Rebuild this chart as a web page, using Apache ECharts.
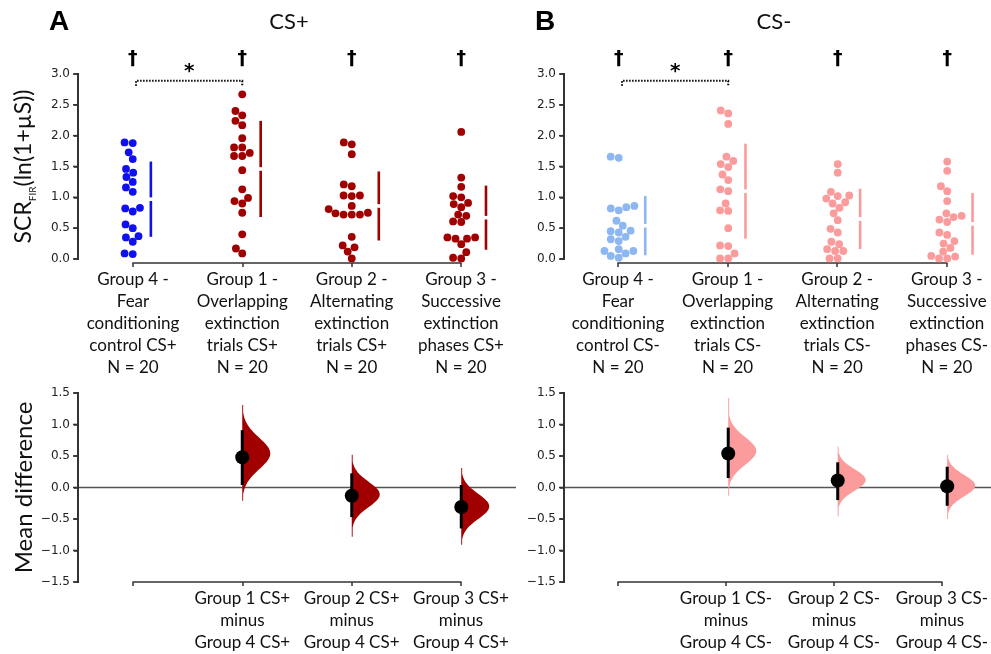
<!DOCTYPE html>
<html><head><meta charset="utf-8">
<script src="https://cdn.jsdelivr.net/npm/echarts@6/dist/echarts.min.js"></script>
<style>html,body{margin:0;padding:0;background:#fff}#c{width:991px;height:654px}</style>
</head><body><div id="c"></div>
<script>
// ---------- DATA ----------
const topCatsPlus = ['Group 4 -\nFear\nconditioning\ncontrol CS+\nN = 20','Group 1 -\nOverlapping\nextinction\ntrials CS+\nN = 20','Group 2 -\nAlternating\nextinction\ntrials CS+\nN = 20','Group 3 -\nSuccessive\nextinction\nphases CS+\nN = 20'];
const topCatsMinus = ['Group 4 -\nFear\nconditioning\ncontrol CS-\nN = 20','Group 1 -\nOverlapping\nextinction\ntrials CS-\nN = 20','Group 2 -\nAlternating\nextinction\ntrials CS-\nN = 20','Group 3 -\nSuccessive\nextinction\nphases CS-\nN = 20'];
const bottomCatsPlus = ['','Group 1 CS+\nminus\nGroup 4 CS+','Group 2 CS+\nminus\nGroup 4 CS+','Group 3 CS+\nminus\nGroup 4 CS+'];
const bottomCatsMinus = ['','Group 1 CS-\nminus\nGroup 4 CS-','Group 2 CS-\nminus\nGroup 4 CS-','Group 3 CS-\nminus\nGroup 4 CS-'];
const topTicks = [0,0.5,1,1.5,2,2.5,3];
const bottomTicks = [-1.5,-1,-0.5,0,0.5,1,1.5];

const csPlusG4 = [1.89,1.88,1.73,1.62,1.46,1.40,1.33,1.25,1.16,1.09,0.83,0.82,0.77,0.56,0.50,0.37,0.35,0.28,0.09,0.08];
const csPlusG1 = [2.67,2.40,2.33,2.24,2.17,1.96,1.81,1.81,1.72,1.67,1.67,1.44,1.13,0.99,0.94,0.90,0.75,0.40,0.17,0.09];
const csPlusG2 = [1.89,1.86,1.70,1.21,1.18,1.03,1.03,1.02,0.86,0.81,0.75,0.74,0.72,0.72,0.72,0.36,0.22,0.19,0.12,0.01];
const csPlusG3 = [2.06,1.32,1.17,1.02,1.00,0.91,0.89,0.84,0.72,0.70,0.61,0.60,0.35,0.33,0.33,0.35,0.24,0.11,0.02,0.01];
const csMinusG4 = [1.66,1.64,0.86,0.84,0.82,0.79,0.62,0.54,0.46,0.45,0.43,0.36,0.32,0.29,0.16,0.13,0.13,0.09,0.05,0.02];
const csMinusG1 = [2.41,2.36,2.19,1.66,1.59,1.54,1.49,1.37,1.28,1.13,1.10,0.90,0.79,0.78,0.50,0.22,0.21,0.09,0.01,0.01];
const csMinusG2 = [1.54,1.40,1.09,1.03,1.02,0.98,0.92,0.90,0.83,0.74,0.63,0.49,0.43,0.28,0.24,0.16,0.13,0.13,0.01,0.01];
const csMinusG3 = [1.58,1.43,1.18,1.10,0.94,0.74,0.70,0.68,0.64,0.60,0.43,0.39,0.29,0.25,0.18,0.12,0.05,0.04,0.01,0.01];

const csPlusMean = [0.97,1.46,0.86,0.67];
const csPlusSD   = [0.61,0.78,0.56,0.52];
const csMinusMean = [0.54,1.10,0.65,0.57];
const csMinusSD   = [0.48,0.77,0.49,0.50];

const csPlusDiff   = [0.48,-0.13,-0.31];
const csPlusCiLow  = [0.04,-0.47,-0.65];
const csPlusCiHigh = [0.91,0.225,0.04];
const csPlusBootPeak = [0.54,-0.11,-0.30];
const csPlusBootSpread = [0.25,0.20,0.20];
const csPlusBootLow  = [-0.21,-0.78,-0.91];
const csPlusBootHigh = [1.31,0.52,0.31];

const csMinusDiff   = [0.54,0.11,0.02];
const csMinusCiLow  = [0.15,-0.20,-0.29];
const csMinusCiHigh = [0.95,0.40,0.33];
const csMinusBootPeak = [0.58,0.12,0.03];
const csMinusBootSpread = [0.22,0.17,0.17];
const csMinusBootLow  = [-0.13,-0.46,-0.50];
const csMinusBootHigh = [1.42,0.65,0.52];

const daggerGroups = [0,1,2,3];
const bracketPair = [0,1];

// ---------- STYLE ----------
const BLUE='#1010ef', DRED='#a00000', LBLUE='#8db7f2', LRED='#fb9b9b';
const AX='#333333';
const TICKFONT='DejaVu Sans', LABFONT='Lato';
const C0=0.5; // category k sits at x = k + C0 in the data grids (axes span -0.5..3.5 in category units)

function fmt(v){ const s=Math.abs(v).toFixed(1); return v<0?'\u2212'+s:s; }

function dataXAxis(grid, max){
  return {type:'value', gridIndex:grid, min:0, max:max, show:false};
}
function labelXAxis(grid, cats, off){
  return {type:'value', gridIndex:grid, min:0, max:3, interval:1, offset:off,
    axisLine:{show:true, onZero:false, lineStyle:{color:AX,width:1.5}},
    axisTick:{show:true, length:4, lineStyle:{color:AX,width:1.5}},
    splitLine:{show:false},
    axisLabel:{show:true, margin:6, showMinLabel:true, showMaxLabel:true,
      fontFamily:LABFONT, fontSize:17, lineHeight:22, color:'#111', align:'center',
      formatter:(v)=>cats[Math.round(v)]||''}};
}
function dataYAxis(grid, min, max, name, extra){
  return Object.assign({type:'value', gridIndex:grid, min:min, max:max, interval:0.5, position:'left',
    axisLine:{show:true, onZero:false, lineStyle:{color:AX,width:1.5}},
    axisTick:{show:true, length:4, lineStyle:{color:AX,width:1.5}},
    splitLine:{show:false},
    axisLabel:{margin:8, fontFamily:TICKFONT, fontSize:12, color:'#222', formatter:fmt,
      showMinLabel:true, showMaxLabel:true},
    name:name||''}, extra||{});
}
function hiddenYAxis(grid){ return {type:'value', gridIndex:grid, min:0, max:1, show:false}; }

const chart = echarts.init(document.getElementById('c'));
const titles = [
  {type:'text', x:59, y:22, style:{text:'A', font:'bold 28px "Liberation Sans"', fill:'#000', align:'center', verticalAlign:'middle'}},
  {type:'text', x:545, y:22, style:{text:'B', font:'bold 28px "Liberation Sans"', fill:'#000', align:'center', verticalAlign:'middle'}},
  {type:'text', x:289, y:22, style:{text:'CS+', font:'22px Lato', fill:'#111', align:'center', verticalAlign:'middle'}},
  {type:'text', x:774, y:22, style:{text:'CS-', font:'22px Lato', fill:'#111', align:'center', verticalAlign:'middle'}}
];
const base = {
  animation:false,
  backgroundColor:'#fff',
  grid:[
    {left:78, top:74, width:438, height:185},
    {left:564, top:74, width:427, height:185},
    {left:78, top:393, width:438, height:189},
    {left:564, top:393, width:427, height:189},
    {left:133, top:74, width:328, height:185},
    {left:618, top:74, width:329, height:185},
    {left:133, top:393, width:328, height:189},
    {left:618, top:393, width:329, height:189}
  ],
  xAxis:[dataXAxis(0,4),dataXAxis(1,3.9),dataXAxis(2,4),dataXAxis(3,3.9),
    labelXAxis(4,topCatsPlus,4), labelXAxis(5,topCatsMinus,4), labelXAxis(6,bottomCatsPlus,2), labelXAxis(7,bottomCatsMinus,2)],
  yAxis:[
    dataYAxis(0,topTicks[0],topTicks[topTicks.length-1],'{a|SCR}{b|FIR}{a|(ln(1+\u00b5S))}',
      {nameLocation:'middle', nameGap:40, nameRotate:90,
       nameTextStyle:{rich:{a:{fontFamily:LABFONT,fontSize:23,color:'#111',lineHeight:28},
                            b:{fontFamily:LABFONT,fontSize:10,color:'#111',lineHeight:12,verticalAlign:'bottom'}}}}),
    dataYAxis(1,topTicks[0],topTicks[topTicks.length-1],''),
    dataYAxis(2,bottomTicks[0],bottomTicks[bottomTicks.length-1],'Mean difference',
      {nameLocation:'middle', nameGap:42, nameRotate:90,
       nameTextStyle:{fontFamily:LABFONT,fontSize:24,color:'#111'}}),
    dataYAxis(3,bottomTicks[0],bottomTicks[bottomTicks.length-1],''),
    hiddenYAxis(4),hiddenYAxis(5),hiddenYAxis(6),hiddenYAxis(7)
  ],
  graphic:titles,
  series:[]
};
chart.setOption(base);

// ---------- y-axis spines and ticks as filled bars on their own layer, placed through the axis scales ----------
const spineEls=[];
[[0,topTicks],[1,topTicks],[2,bottomTicks],[3,bottomTicks]].forEach(([g,ticks])=>{
  const a=chart.convertToPixel({gridIndex:g},[0,ticks[0]]);
  const b=chart.convertToPixel({gridIndex:g},[0,ticks[ticks.length-1]]);
  spineEls.push({type:'rect', zlevel:1, z:100, silent:true, shape:{x:a[0]-1,y:b[1]-1,width:2,height:a[1]-b[1]+2}, style:{fill:AX}});
  ticks.forEach(t=>{
    const p=chart.convertToPixel({gridIndex:g},[0,t]);
    spineEls.push({type:'rect', zlevel:1, z:100, silent:true, shape:{x:p[0]-5,y:p[1]-0.8,width:5,height:1.6}, style:{fill:AX}});
  });
});

// ---------- swarm layout (pixel space, seaborn-like) ----------
const DOT=7.8;
function swarm(ys, d){
  const order = ys.map((y,i)=>i).sort((a,b)=>ys[b]-ys[a]);
  const placed=[], xs=new Array(ys.length);
  for(const i of order){
    const y=ys[i];
    const neigh=placed.filter(p=>Math.abs(p.y-y)<d);
    const cands=[0]; let leftFirst=true;
    for(const n of neigh){
      const dx=Math.sqrt(Math.max(d*d-(n.y-y)*(n.y-y),0))*1.05;
      if(leftFirst) cands.push(n.x-dx,n.x+dx); else cands.push(n.x+dx,n.x-dx);
      leftFirst=!leftFirst;
    }
    const sorted=cands.map((c,k)=>[c,k]).sort((a,b)=>Math.abs(a[0])-Math.abs(b[0])||a[1]-b[1]);
    let chosen=0;
    for(const [c] of sorted){
      if(neigh.every(n=>(n.x-c)*(n.x-c)+(n.y-y)*(n.y-y)>=d*d*0.999)){chosen=c;break;}
    }
    xs[i]=chosen; placed.push({x:chosen,y:y});
  }
  return xs;
}

const series=[];
const panels=[
  {grid:0, groups:[csPlusG4,csPlusG1,csPlusG2,csPlusG3], colors:[BLUE,DRED,DRED,DRED], mean:csPlusMean, sd:csPlusSD},
  {grid:1, groups:[csMinusG4,csMinusG1,csMinusG2,csMinusG3], colors:[LBLUE,LRED,LRED,LRED], mean:csMinusMean, sd:csMinusSD}
];
panels.forEach(p=>{
  const ciData=[];
  p.groups.forEach((vals,g)=>{
    const pys=vals.map(v=>chart.convertToPixel({gridIndex:p.grid},[g+C0,v])[1]);
    const cx=chart.convertToPixel({gridIndex:p.grid},[g+C0,0])[0];
    const offs=swarm(pys,DOT);
    const data=vals.map((v,i)=>[chart.convertFromPixel({gridIndex:p.grid},[cx+offs[i],pys[i]])[0], v]);
    series.push({type:'scatter', xAxisIndex:p.grid, yAxisIndex:p.grid, data:data, symbolSize:DOT, clip:false,
      itemStyle:{color:p.colors[g], opacity:1}, z:3, silent:true});
    const right=Math.max(...offs)+DOT/2+7;
    ciData.push({value:[chart.convertFromPixel({gridIndex:p.grid},[cx+right,0])[0], p.mean[g], p.sd[g]], color:p.colors[g]});
  });
  series.push({type:'custom', xAxisIndex:p.grid, yAxisIndex:p.grid, data:ciData, clip:false, z:2, silent:true,
    renderItem:(params,api)=>{
      const x=api.value(0), m=api.value(1), s=api.value(2);
      const c=ciData[params.dataIndex].color;
      const pm=api.coord([x,m]), pt=api.coord([x,m+s]), pb=api.coord([x,m-s]);
      const st={stroke:c,lineWidth:2.6};
      return {type:'group',children:[
        {type:'line',shape:{x1:pm[0],y1:pt[1],x2:pm[0],y2:pm[1]-1.8},style:st},
        {type:'line',shape:{x1:pm[0],y1:pm[1]+1.8,x2:pm[0],y2:pb[1]},style:st}]};
    }});
  const ann=daggerGroups.map(g=>({value:[g+C0,3.24],kind:'dagger'}));
  ann.push({value:[bracketPair[0]+C0,2.89],kind:'bracket'});
  series.push({type:'custom', xAxisIndex:p.grid, yAxisIndex:p.grid, data:ann, clip:false, z:4, silent:true,
    renderItem:(params,api)=>{
      const it=ann[params.dataIndex];
      if(it.kind==='dagger'){
        const pt=api.coord(it.value);
        return {type:'text',x:pt[0],y:pt[1],style:{text:'\u2020',font:'bold 19px "DejaVu Sans"',fill:'#000',align:'center',verticalAlign:'middle'}};
      }
      const x0=bracketPair[0]+C0+0.03, x1=bracketPair[1]+C0;
      const a=api.coord([x0,2.89]), b=api.coord([x1,2.89]);
      const a2=api.coord([x0,2.81]), b2=api.coord([x1,2.81]);
      const st=api.coord([(x0+x1)/2,3.03]);
      return {type:'group',children:[
        {type:'polyline',shape:{points:[[a2[0],a2[1]],[a[0],a[1]],[b[0],b[1]],[b2[0],b2[1]]]},
          style:{stroke:'#000',lineWidth:2,lineDash:[1.5,1.5],fill:null}},
        {type:'text',x:st[0],y:st[1],style:{text:'*',font:'bold 20px "DejaVu Sans"',fill:'#000',align:'center',verticalAlign:'middle'}}]};
    }});
});

const eff=[
  {grid:2, xmax:4, color:DRED, diff:csPlusDiff, lo:csPlusCiLow, hi:csPlusCiHigh, pk:csPlusBootPeak, sp:csPlusBootSpread, bl:csPlusBootLow, bh:csPlusBootHigh},
  {grid:3, xmax:3.9, color:LRED, diff:csMinusDiff, lo:csMinusCiLow, hi:csMinusCiHigh, pk:csMinusBootPeak, sp:csMinusBootSpread, bl:csMinusBootLow, bh:csMinusBootHigh}
];
eff.forEach(e=>{
  series.push({type:'custom', xAxisIndex:e.grid, yAxisIndex:e.grid, data:[[0,0]], clip:false, z:1, silent:true,
    renderItem:(params,api)=>{
      const a=api.coord([0,0]), b=api.coord([e.xmax,0]);
      return {type:'line',shape:{x1:a[0],y1:a[1],x2:b[0],y2:b[1]},style:{stroke:'#555',lineWidth:1.5}};
    }});
  const vdata=e.diff.map((d,i)=>[i+1+C0,e.pk[i],e.sp[i],e.bl[i],e.bh[i]]);
  series.push({type:'custom', xAxisIndex:e.grid, yAxisIndex:e.grid, data:vdata, clip:false, z:2, silent:true,
    renderItem:(params,api)=>{
      const x=api.value(0), pk=api.value(1), sp=api.value(2), lo=api.value(3), hi=api.value(4);
      const W=28, N=80, pts=[];
      for(let k=0;k<=N;k++){
        const t=lo+(hi-lo)*k/N;
        const w=Math.max(0.9, W*Math.exp(-0.5*Math.pow((t-pk)/sp,2)));
        const c=api.coord([x,t]); pts.push([c[0]+w,c[1]]);
      }
      const top=api.coord([x,hi]), bot=api.coord([x,lo]);
      pts.push([top[0],top[1]]); pts.push([bot[0],bot[1]]);
      return {type:'polygon',shape:{points:pts},style:{fill:e.color,stroke:null}};
    }});
  const cdata=e.diff.map((d,i)=>[i+1+C0,e.lo[i],e.hi[i]]);
  series.push({type:'custom', xAxisIndex:e.grid, yAxisIndex:e.grid, data:cdata, clip:false, z:3, silent:true,
    renderItem:(params,api)=>{
      const a=api.coord([api.value(0),api.value(1)]), b=api.coord([api.value(0),api.value(2)]);
      return {type:'line',shape:{x1:a[0],y1:a[1],x2:b[0],y2:b[1]},style:{stroke:'#000',lineWidth:3}};
    }});
  series.push({type:'scatter', xAxisIndex:e.grid, yAxisIndex:e.grid, data:e.diff.map((d,i)=>[i+1+C0,d]),
    symbolSize:14, clip:false, itemStyle:{color:'#000',opacity:1}, z:4, silent:true});
});

chart.setOption({series:series, graphic:titles.concat(spineEls)});
</script></body></html>
